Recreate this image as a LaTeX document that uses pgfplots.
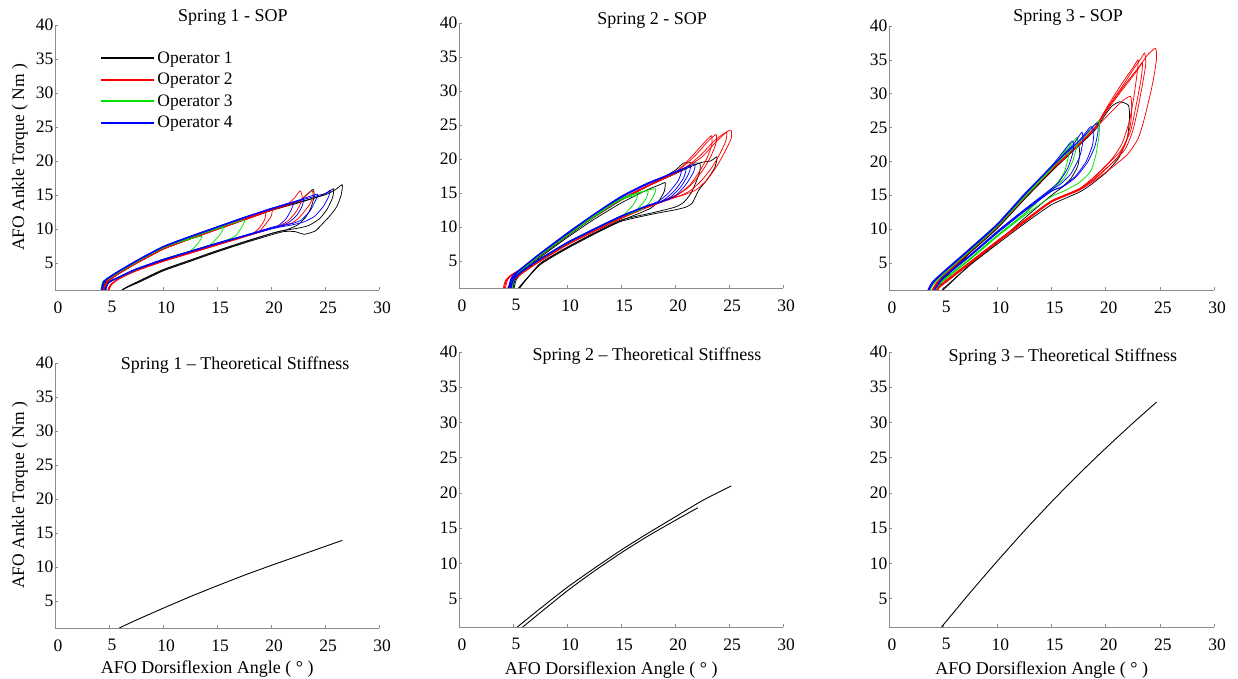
\documentclass[border=0pt]{standalone}
\usepackage{fontspec}
\setmainfont{Liberation Serif}
\usepackage{pgfplots}
\pgfplotsset{compat=1.18}
\newcommand{\fs}{\rmfamily\fontsize{17.5bp}{21bp}\selectfont}
\newcommand{\fl}{\rmfamily\fontsize{18bp}{22bp}\selectfont}
\definecolor{opk}{RGB}{0,0,0}
\definecolor{opr}{RGB}{255,0,0}
\definecolor{opg}{RGB}{0,225,0}
\definecolor{opb}{RGB}{0,0,255}
\pgfplotsset{
  pan/.style={scale only axis, xmin=0, xmax=30, ymin=1, ymax=40,
    axis x line*=bottom, axis y line*=left,
    axis line style={-, black!45, line width=0.6pt},
    every tick/.style={black!45, line width=0.6pt},
    tick align=inside, major tick length=3bp,
    xtick={0,5,...,30}, ytick={5,10,...,40},
    /pgf/number format/assume math mode=true,
    tick label style={font=\fs},
    xticklabel style={xshift=3bp, yshift=-8bp},
    yticklabel style={xshift=2bp},
    label style={font=\fl},
    every axis title/.style={font=\fl, anchor=center}},
  dn/.style={line width=0.75pt, line join=round, smooth, tension=0.35},
  dat/.style={dn, forget plot},
  s1/.style={dat, color=opk}, s2/.style={dat, color=opr}, s3/.style={dat, color=opg}, s4/.style={dat, color=opb},
  l1/.style={dn, color=opk}, l2/.style={dn, color=opr}, l3/.style={dn, color=opg}, l4/.style={dn, color=opb},
  th/.style={dat, color=black, line width=0.9pt},
  yl/.style={ylabel={AFO Ankle Torque ( Nm )}, ylabel style={font=\fs, at={(axis description cs:-0.108,0.5)}, anchor=center}},
  xl/.style={xlabel={AFO Dorsiflexion Angle ( ° )}, xlabel style={at={(axis description cs:0.47,-0.155)}, anchor=center}}
}
\begin{document}
\begin{tikzpicture}
\path[use as bounding box] (0bp,0bp) rectangle (1238bp,679bp);
% ---------- Panel 1 ----------
\begin{axis}[pan, yl, at={(55bp,389bp)}, anchor=south west, width=324bp, height=265bp,
  title={Spring 1 - SOP}, title style={at={(0.549,1)}, yshift=8bp},
  legend style={draw=none, fill=none, at={(0.13,0.915)}, anchor=north west, font=\fs, row sep=4.5bp, legend cell align=left},
  legend image code/.code={\draw[#1, line width=2.1pt, sharp plot] (0bp,0bp) -- (53bp,0bp);}]
\addplot[l1] coordinates {(4.3,0) (4.4,1.2) (4.6,2.2) (5,2.6) (6,3.6) (7.5,5.0) (10,7.1) (12.5,8.6) (15,10.0) (17.5,11.4) (20,12.8) (22.5,13.9) (25,15.0) (26,15.8) (26.6,16.5) (26.5,15.0) (26.1,13.3) (25.5,12.0) (24.8,10.8) (24.1,9.7) (23.1,9.2) (22.2,9.6) (21.2,9.6) (20,9.1) (17.5,7.9) (15,6.6) (12.5,5.2) (10,3.8) (8,2.3) (6.2,1.0) (5.8,0)};
\addlegendentry{Operator 1}
\addplot[s1] coordinates {(4.4,0) (4.5,1.2) (4.7,2.2) (5,2.5) (6,3.5) (7.5,4.9) (10,7.0) (12.5,8.5) (15,9.9) (17.5,11.3) (20,12.7) (22.5,13.8) (24.5,14.8) (25.3,15.4) (25.8,15.9) (25.7,14.6) (25.2,12.9) (24.5,11.5) (23.5,10.5) (22.5,10.1) (21,9.7) (20,9.3) (17.5,8.1) (15,6.8) (12.5,5.4) (10,4.0) (8,2.5) (6.4,1.2) (5.9,0)};
\addplot[s1] coordinates {(4.5,0) (4.6,1.3) (4.8,2.2) (5.2,2.7) (6,3.5) (7.5,4.9) (10,7.0) (12.5,8.6) (15,10.0) (17.5,11.4) (20,12.7) (22.5,14.0) (23.3,15.0) (23.9,15.8) (24.0,14.8) (23.7,13.1) (23.2,11.7) (22.5,10.6) (21.5,9.9) (20,9.3) (17.5,8.0) (15,6.7) (12.5,5.3) (10,3.9) (8,2.4) (6.3,1.1) (6.0,0)};
\addplot[l2] coordinates {(4.4,0) (4.5,1.3) (4.8,2.3) (5.2,2.8) (6,3.6) (7.5,5.0) (10,7.1) (12.5,8.6) (15,10.0) (17.5,11.4) (20,12.7) (22.5,14.0) (23.2,14.9) (23.8,15.6) (23.9,14.7) (23.5,13.4) (22.8,12.0) (22,10.9) (20,10.0) (17.5,8.9) (15,7.7) (12.5,6.5) (10,5.3) (7.5,3.9) (6,2.8) (5.2,1.9) (4.9,1.0) (4.8,0)};
\addlegendentry{Operator 2}
\addplot[s2] coordinates {(4.5,0) (4.6,1.3) (4.9,2.3) (5.3,2.8) (6,3.5) (7.5,4.9) (10,7.0) (12.5,8.5) (15,9.9) (17.5,11.3) (20,12.8) (21.5,13.6) (22.2,14.6) (22.7,15.6) (22.9,14.4) (22.4,12.7) (21.6,11.2) (20.6,10.3) (20,10.0) (17.5,8.8) (15,7.6) (12.5,6.4) (10,5.2) (7.5,3.8) (6,2.7) (5.2,1.8) (4.9,1.0) (4.8,0)};
\addplot[s2] coordinates {(4.4,0) (4.5,1.2) (4.8,2.2) (5.2,2.7) (6,3.6) (7.5,5.0) (10,7.1) (12.5,8.6) (15,10.0) (17.5,11.4) (19.3,12.4) (20.1,12.9) (20.0,11.8) (19.4,10.5) (18.8,9.5) (17.5,8.9) (15,7.7) (12.5,6.5) (10,5.3) (7.5,3.9) (6,2.8) (5.3,1.9) (5.0,1.0) (4.9,0)};
\addplot[s2] coordinates {(4.5,0) (4.6,1.2) (4.9,2.2) (5.3,2.7) (6,3.5) (7.5,4.9) (10,7.0) (12.5,8.5) (15,9.9) (17.5,11.3) (19.0,12.1) (19.5,12.4) (19.4,11.3) (18.9,10.1) (18.3,9.3) (17.5,8.8) (15,7.6) (12.5,6.4) (10,5.2) (7.5,3.8) (6,2.7) (5.2,1.8) (4.9,1.0) (4.8,0)};
\addplot[l3] coordinates {(4.2,0) (4.25,1.0) (4.4,2.2) (5,2.8) (6,3.8) (7.5,5.2) (10,7.3) (12.5,8.5) (13.6,8.9) (13.3,8.0) (12.8,7.1) (12.3,6.6) (10,5.5) (7.5,4.0) (6,2.9) (5.0,2.1) (4.6,1.0) (4.5,0)};
\addlegendentry{Operator 3}
\addplot[s3] coordinates {(4.25,0) (4.3,1.0) (4.5,2.2) (5,2.7) (6,3.7) (7.5,5.1) (10,7.2) (12.5,8.7) (15,10.0) (15.6,10.2) (15.3,9.2) (14.8,8.3) (14.3,7.6) (12.5,6.7) (10,5.5) (7.5,4.0) (6,2.9) (5.0,2.1) (4.6,1.0) (4.5,0)};
\addplot[s3] coordinates {(4.3,0) (4.35,1.0) (4.5,2.1) (5,2.7) (6,3.7) (7.5,5.1) (10,7.2) (12.5,8.7) (15,10.1) (17.5,11.3) (17.3,10.3) (16.8,9.1) (16.3,8.6) (15,7.9) (12.5,6.7) (10,5.5) (7.5,4.0) (6,2.9) (5.0,2.1) (4.6,1.0) (4.5,0)};
\addplot[l4] coordinates {(4.2,0) (4.3,1.1) (4.5,2.2) (5,2.8) (6,3.8) (7.5,5.2) (10,7.3) (12.5,8.8) (15,10.2) (17.5,11.6) (20,13.0) (22.5,14.1) (25,15.2) (25.5,15.7) (25.3,14.6) (24.8,13.2) (24.0,11.8) (23.0,11.0) (22,10.6) (20,10.0) (17.5,8.9) (15,7.8) (12.5,6.6) (10,5.4) (7.5,4.0) (6,2.9) (5.0,2.1) (4.6,1.0) (4.5,0)};
\addlegendentry{Operator 4}
\addplot[s4] coordinates {(4.25,0) (4.35,1.1) (4.55,2.2) (5,2.9) (6,3.9) (7.5,5.3) (10,7.4) (12.5,8.9) (15,10.3) (17.5,11.7) (20,13.0) (22.5,14.2) (24.3,15.1) (24.1,14.1) (23.6,12.6) (22.8,11.3) (22,10.8) (20,10.1) (17.5,9.0) (15,7.9) (12.5,6.7) (10,5.5) (7.5,4.1) (6,3.0) (5.0,2.2) (4.7,1.0) (4.6,0)};
\addplot[s4] coordinates {(4.3,0) (4.4,1.1) (4.6,2.2) (5,2.8) (6,3.8) (7.5,5.2) (10,7.3) (12.5,8.8) (15,10.2) (17.5,11.6) (20,12.9) (22.5,14.1) (23.0,14.4) (22.9,13.4) (22.4,12.0) (21.6,10.9) (20.8,10.4) (20,10.0) (17.5,8.9) (15,7.8) (12.5,6.6) (10,5.4) (7.5,4.0) (6,2.9) (5.0,2.1) (4.6,1.0) (4.5,0)};
\addplot[s4] coordinates {(4.2,0) (4.3,1.0) (4.5,2.3) (5,2.9) (6,3.9) (7.5,5.3) (10,7.4) (12.5,8.9) (15,10.3) (17.5,11.7) (20,12.9) (22.0,13.9) (21.9,12.9) (21.4,11.5) (20.7,10.5) (20,10.2) (17.5,9.0) (15,7.9) (12.5,6.7) (10,5.5) (7.5,4.1) (6,3.0) (5.0,2.2) (4.7,1.0) (4.6,0)};
\end{axis}
% ---------- Panel 2 ----------
\begin{axis}[pan, at={(459bp,391bp)}, anchor=south west, width=324bp, height=265bp,
  title={Spring 2 - SOP}, title style={at={(0.596,1)}, yshift=3bp}]
\addplot[s1] coordinates {(4.8,0) (4.9,1.0) (5.1,2.2) (5.5,3.0) (6,3.9) (7.5,5.8) (10,8.7) (12.5,11.5) (15,14.0) (17.5,16.0) (20,17.8) (21.5,18.9) (22.5,19.5) (23.3,19.7) (23.9,20.3) (23.7,18.8) (23.0,17.0) (22.2,15.4) (21.6,13.5) (21,12.9) (20,12.5) (18,11.9) (15,10.8) (12.5,8.9) (10,6.8) (7.5,4.4) (5.5,1.0) (5.2,0)};
\addplot[s1] coordinates {(4.9,0) (5.0,1.0) (5.2,2.2) (5.6,3.0) (6,3.8) (7.5,5.7) (10,8.6) (12.5,11.4) (15,13.9) (17.5,16.0) (20,18.3) (20.8,19.4) (21.6,19.4) (22.3,19.3) (22.3,18.2) (22.0,16.8) (21.5,15.0) (20.8,13.6) (20,12.9) (18,12.1) (15,11.0) (12.5,9.1) (10,7.0) (7.5,4.6) (5.6,1.0) (5.3,0)};
\addplot[s1] coordinates {(5.0,0) (5.1,1.0) (5.3,2.2) (5.7,3.0) (6.2,3.8) (7.5,5.5) (10,8.4) (12.5,11.1) (15,13.5) (17.5,15.5) (18.6,16.2) (19.1,16.5) (19.0,15.2) (18.5,13.8) (17.8,12.8) (17,12.2) (15,10.9) (12.5,9.0) (10,6.9) (7.5,4.5) (5.6,1.0) (5.3,0)};
\addplot[s2] coordinates {(4.1,0) (4.2,1.0) (4.4,2.2) (4.9,3.0) (6,4.0) (7.5,5.9) (10,8.7) (12.5,11.5) (15,14.0) (17.5,16.0) (20,17.8) (21.2,18.9) (22.5,20.3) (23.8,22.5) (24.8,24.0) (25.2,24.2) (25.2,23.0) (24.6,21.0) (23.9,19.0) (23,17.0) (22,15.5) (21,14.8) (20,14.3) (17.5,12.9) (15,11.3) (12.5,9.4) (10,7.4) (7.5,5.0) (6,3.4) (5,2.2) (4.6,1.0) (4.5,0)};
\addplot[s2] coordinates {(4.0,0) (4.1,1.0) (4.3,2.1) (4.8,2.9) (6,4.0) (7.5,5.9) (10,8.8) (12.5,11.6) (15,14.1) (17.5,16.1) (20,17.9) (21.2,19.0) (22.4,20.6) (23.6,22.6) (24.5,23.7) (24.8,23.9) (24.7,22.6) (24.1,20.6) (23.4,18.7) (22.5,16.9) (21.5,15.4) (20.5,14.6) (20,14.4) (17.5,13.0) (15,11.4) (12.5,9.5) (10,7.5) (7.5,5.1) (6,3.5) (5,2.3) (4.5,1.0) (4.4,0)};
\addplot[s2] coordinates {(4.2,0) (4.3,1.0) (4.5,2.2) (5.0,3.0) (6,4.0) (7.5,5.9) (10,8.7) (12.5,11.5) (15,14.0) (17.5,16.0) (20,18.0) (21.0,19.2) (22.0,20.7) (23.0,22.5) (23.8,23.6) (23.8,22.3) (23.3,20.3) (22.6,18.4) (21.8,16.7) (21,15.5) (20,14.6) (17.5,13.0) (15,11.3) (12.5,9.4) (10,7.4) (7.5,5.0) (6,3.4) (5,2.2) (4.6,1.0) (4.5,0)};
\addplot[s2] coordinates {(4.1,0) (4.2,1.0) (4.4,2.1) (4.9,2.9) (6,3.9) (7.5,5.8) (10,8.7) (12.5,11.5) (15,14.0) (17.5,16.1) (20,18.0) (21.1,19.6) (22.2,21.5) (23.0,22.9) (23.4,23.4) (23.4,22.0) (22.9,19.9) (22.2,18.0) (21.4,16.2) (20.5,15.0) (20,14.5) (17.5,12.9) (15,11.2) (12.5,9.3) (10,7.3) (7.5,4.9) (6,3.3) (5,2.1) (4.6,1.0) (4.5,0)};
\addplot[s3] coordinates {(4.6,0) (4.7,1.0) (4.9,2.3) (5.3,3.1) (6,4.0) (7.5,5.9) (10,8.8) (12.5,11.6) (15,14.0) (16.5,14.6) (16.2,13.4) (15.6,12.3) (15.0,11.5) (12.5,9.6) (10,7.6) (7.5,5.2) (6,3.6) (5.1,2.4) (4.9,1.0) (4.8,0)};
\addplot[s3] coordinates {(4.7,0) (4.8,1.0) (5.0,2.3) (5.4,3.1) (6,3.9) (7.5,5.8) (10,8.7) (12.5,11.5) (15,14.1) (16.5,14.9) (17.5,15.3) (17.3,14.1) (16.7,12.9) (16.0,12.0) (15,11.5) (12.5,9.6) (10,7.6) (7.5,5.2) (6,3.6) (5.1,2.4) (4.9,1.0) (4.8,0)};
\addplot[s3] coordinates {(4.6,0) (4.7,1.0) (4.9,2.2) (5.3,3.0) (6,4.0) (7.5,5.9) (10,8.8) (12.5,11.6) (15,14.2) (17,15.2) (18.2,15.6) (18.0,14.5) (17.5,13.3) (16.8,12.5) (15,11.6) (12.5,9.7) (10,7.7) (7.5,5.3) (6,3.7) (5.1,2.5) (4.9,1.0) (4.8,0)};
\addplot[s4] coordinates {(4.5,0) (4.6,1.0) (4.8,2.4) (5.2,3.2) (6,4.2) (7.5,6.1) (10,9.0) (12.5,11.8) (15,14.4) (17.5,16.4) (20,18.1) (21.8,19.2) (21.7,18.0) (21.0,16.2) (20.2,14.8) (19.5,14.1) (17.5,13.1) (15,11.5) (12.5,9.6) (10,7.6) (7.5,5.2) (6,3.6) (5.1,2.4) (4.8,1.0) (4.7,0)};
\addplot[s4] coordinates {(4.6,0) (4.7,1.0) (4.9,2.4) (5.3,3.2) (6,4.1) (7.5,6.0) (10,8.9) (12.5,11.8) (15,14.4) (17.5,16.4) (20,18.0) (21.4,18.9) (21.2,17.6) (20.5,15.8) (19.6,14.4) (18.8,13.7) (17.5,13.2) (15,11.6) (12.5,9.7) (10,7.7) (7.5,5.3) (6,3.7) (5.1,2.5) (4.8,1.0) (4.7,0)};
\addplot[s4] coordinates {(4.5,0) (4.6,1.0) (4.8,2.3) (5.2,3.1) (6,4.2) (7.5,6.1) (10,9.1) (12.5,11.9) (15,14.5) (17.5,16.5) (20,18.0) (21.0,18.6) (20.8,17.2) (20.0,15.4) (19.0,14.0) (18.2,13.4) (17.5,13.1) (15,11.5) (12.5,9.6) (10,7.6) (7.5,5.2) (6,3.6) (5.1,2.4) (4.8,1.0) (4.7,0)};
\addplot[s4] coordinates {(4.6,0) (4.7,1.0) (4.9,2.3) (5.3,3.1) (6,4.1) (7.5,6.0) (10,9.0) (12.5,11.8) (15,14.3) (17.5,16.3) (20,18.0) (20.6,18.3) (20.3,16.8) (19.4,15.0) (18.5,13.8) (17.6,13.2) (15,11.6) (12.5,9.7) (10,7.7) (7.5,5.3) (6,3.7) (5.1,2.5) (4.8,1.0) (4.7,0)};
\end{axis}
% ---------- Panel 3 ----------
\begin{axis}[pan, at={(889bp,389bp)}, anchor=south west, width=325bp, height=264bp,
  title={Spring 3 - SOP}, title style={at={(0.551,1)}, yshift=9bp}]
\addplot[s1] coordinates {(4.3,0) (4.4,1.0) (4.8,2.2) (5.5,3.5) (7.5,6.6) (10,10.2) (12.5,14.5) (15,18.6) (17.5,22.3) (19,24.6) (20,27.0) (20.6,28.2) (21.3,28.8) (22.1,28.3) (22.2,26.5) (22.0,23.5) (21.2,20.5) (20,18.3) (18.5,16.4) (17.5,15.4) (15,13.6) (12.5,10.8) (10,7.8) (7.5,4.7) (5.3,1.6) (4.9,1.0) (4.7,0)};
\addplot[s1] coordinates {(4.4,0) (4.5,1.0) (4.9,2.2) (5.6,3.5) (7.5,6.5) (10,10.1) (12.5,14.4) (15,18.5) (17,21.6) (17.5,22.4) (17.6,21.0) (17.4,19.2) (16.8,17.5) (16,16.2) (15,15.0) (12.5,11.6) (10,8.0) (7.5,4.8) (5.4,1.6) (5.0,1.0) (4.8,0)};
\addplot[s2] coordinates {(3.9,0) (4.0,1.0) (4.4,2.0) (5.2,3.3) (7.5,6.8) (10,10.4) (12.5,14.7) (15,18.8) (17.5,22.5) (19,25.0) (20,27.3) (21.5,30.5) (22.8,33.2) (23.8,35.6) (24.6,36.7) (24.7,35.3) (24.5,33.0) (24.2,30.5) (23.6,26.5) (23.0,23.4) (22,21.0) (20.5,19.0) (19,17.2) (17.5,15.7) (15,14.0) (12.5,11.2) (10,8.2) (7.5,5.1) (5,2.0) (4.4,1.0) (4.3,0)};
\addplot[s2] coordinates {(4.0,0) (4.1,1.0) (4.5,2.0) (5.3,3.3) (7.5,6.7) (10,10.3) (12.5,14.6) (15,18.7) (17.5,22.4) (19,24.9) (20.2,28.0) (21.5,31.0) (22.6,33.7) (23.3,35.3) (23.6,36.0) (23.7,34.4) (23.4,31.4) (23.0,28.0) (22.5,24.5) (21.8,21.8) (20.5,19.6) (19,17.4) (17.5,15.8) (15,14.1) (12.5,11.1) (10,8.1) (7.5,5.0) (5,1.9) (4.4,1.0) (4.3,0)};
\addplot[s2] coordinates {(3.9,0) (4.0,1.0) (4.4,2.1) (5.2,3.4) (7.5,6.8) (10,10.5) (12.5,14.8) (15,18.9) (17.5,22.6) (19,25.0) (20.3,28.5) (21.5,31.5) (22.5,33.8) (23.0,35.0) (22.9,33.0) (22.6,29.5) (22.2,26.0) (21.5,22.6) (20.5,20.2) (19,17.8) (17.5,15.9) (15,14.2) (12.5,11.3) (10,8.3) (7.5,5.2) (5,2.1) (4.5,1.0) (4.4,0)};
\addplot[s2] coordinates {(4.0,0) (4.1,1.0) (4.5,2.1) (5.3,3.4) (7.5,6.7) (10,10.3) (12.5,14.6) (15,18.7) (17.5,22.4) (19,24.8) (20.5,27.3) (21.6,29.0) (22.3,29.6) (22.4,28.0) (22.3,25.5) (21.8,22.5) (21.0,20.4) (19.5,18.2) (18,16.2) (17.5,15.7) (15,14.0) (12.5,11.0) (10,8.0) (7.5,4.9) (5,1.8) (4.4,1.0) (4.3,0)};
\addplot[s2] coordinates {(4.0,0) (4.1,1.0) (4.5,2.0) (5.2,3.3) (7.5,6.7) (10,10.4) (12.5,14.7) (15,18.8) (17.5,22.5) (19,25.0) (20.6,28.8) (22.0,31.8) (23.0,33.8) (23.4,34.6) (23.3,32.5) (22.9,29.0) (22.3,24.5) (21.4,21.6) (20,19.3) (18.5,17.0) (17.5,15.9) (15,14.1) (12.5,11.2) (10,8.2) (7.5,5.1) (5,2.0) (4.4,1.0) (4.3,0)};
\addplot[s3] coordinates {(3.6,0) (3.7,1.0) (4.1,2.0) (5.0,3.4) (7.5,6.9) (10,10.5) (12.5,14.8) (15,19.0) (16.2,21.5) (16.7,22.7) (16.6,21.0) (16.2,18.5) (15.4,16.5) (14.6,15.4) (12.5,12.2) (10,9.0) (7.5,5.6) (5,2.4) (4.2,1.0) (4.1,0)};
\addplot[s3] coordinates {(3.7,0) (3.8,1.0) (4.2,2.0) (5.1,3.4) (7.5,6.8) (10,10.4) (12.5,14.7) (15,18.9) (16.8,22.5) (17.4,23.6) (17.3,22.0) (16.9,19.8) (16.2,17.6) (15.2,16.0) (14,14.6) (12.5,12.3) (10,9.1) (7.5,5.7) (5,2.5) (4.3,1.0) (4.2,0)};
\addplot[s3] coordinates {(3.6,0) (3.7,1.0) (4.1,2.1) (5.0,3.5) (7.5,6.9) (10,10.5) (12.5,14.8) (15,19.0) (17.5,22.7) (18.7,24.8) (19.4,26.0) (19.4,24.0) (19.1,21.0) (18.6,18.5) (17.5,16.8) (16,15.5) (15,14.8) (12.5,12.0) (10,8.9) (7.5,5.5) (5,2.3) (4.2,1.0) (4.1,0)};
\addplot[s4] coordinates {(3.5,0) (3.6,1.0) (4.0,2.1) (5.0,3.6) (7.5,7.1) (10,10.7) (12.5,15.1) (15,19.3) (17.5,23.0) (18.6,25.1) (18.9,24.5) (18.8,22.5) (18.2,20.0) (17.2,17.8) (16,16.3) (15,15.6) (12.5,12.6) (10,9.4) (7.5,6.0) (5,2.7) (4.2,1.0) (4.1,0)};
\addplot[s4] coordinates {(3.6,0) (3.7,1.0) (4.1,2.1) (5.0,3.5) (7.5,7.0) (10,10.6) (12.5,15.0) (15,19.2) (17.5,22.9) (18.5,24.6) (19.2,25.7) (19.3,24.5) (19.0,22.2) (18.3,19.8) (17.2,17.6) (16,16.2) (15,15.6) (12.5,12.7) (10,9.5) (7.5,6.1) (5,2.8) (4.2,1.0) (4.1,0)};
\addplot[s4] coordinates {(3.5,0) (3.6,1.0) (4.0,2.2) (5.0,3.7) (7.5,7.2) (10,10.8) (12.5,15.2) (15,19.2) (17.0,22.5) (17.8,24.3) (17.9,23.0) (17.6,20.7) (16.8,18.2) (15.8,16.6) (15,15.8) (12.5,12.8) (10,9.6) (7.5,6.1) (5,2.8) (4.2,1.0) (4.1,0)};
\addplot[s4] coordinates {(3.6,0) (3.7,1.0) (4.1,2.2) (5.0,3.6) (7.5,7.1) (10,10.7) (12.5,15.1) (15,19.3) (16.9,23.0) (17.0,21.5) (16.5,19.0) (15.7,17.0) (15,16.0) (12.5,12.9) (10,9.7) (7.5,6.2) (5,2.9) (4.2,1.0) (4.1,0)};
\end{axis}
% ---------- Panel 4 ----------
\begin{axis}[pan, yl, xl, at={(55bp,51bp)}, anchor=south west, width=324bp, height=265bp,
  title={Spring 1 – Theoretical Stiffness}, title style={at={(0.556,1)}, yshift=-2bp}]
\addplot[th] coordinates {(5.95,1.0) (7.5,2.15) (10,3.9) (12.5,5.6) (15,7.2) (17.5,8.75) (20,10.2) (22.5,11.6) (25,13.0) (26.6,13.9)};
\end{axis}
% ---------- Panel 5 ----------
\begin{axis}[pan, xl, at={(459bp,52bp)}, anchor=south west, width=324bp, height=275bp,
  title={Spring 2 – Theoretical Stiffness}, title style={at={(0.58,1)}, yshift=-4bp}]
\addplot[th] coordinates {(5.4,1.0) (7.5,3.6) (10,6.6) (12.5,9.3) (15,11.9) (17.5,14.3) (20,16.6) (22.5,18.9) (25.2,21.0)};
\addplot[th] coordinates {(5.9,1.0) (7.5,3.0) (10,6.1) (12.5,8.9) (15,11.5) (17.5,13.9) (20,16.1) (22.1,17.9)};
\end{axis}
% ---------- Panel 6 ----------
\begin{axis}[pan, xl, at={(889bp,52bp)}, anchor=south west, width=325bp, height=275bp,
  title={Spring 3 – Theoretical Stiffness}, title style={at={(0.535,1)}, yshift=-5bp}]
\addplot[th] coordinates {(4.85,1.0) (7.5,5.9) (10,10.35) (12.5,14.65) (15,18.75) (17.5,22.65) (20,26.35) (22.5,29.9) (24.7,32.9)};
\end{axis}
\end{tikzpicture}
\end{document}
